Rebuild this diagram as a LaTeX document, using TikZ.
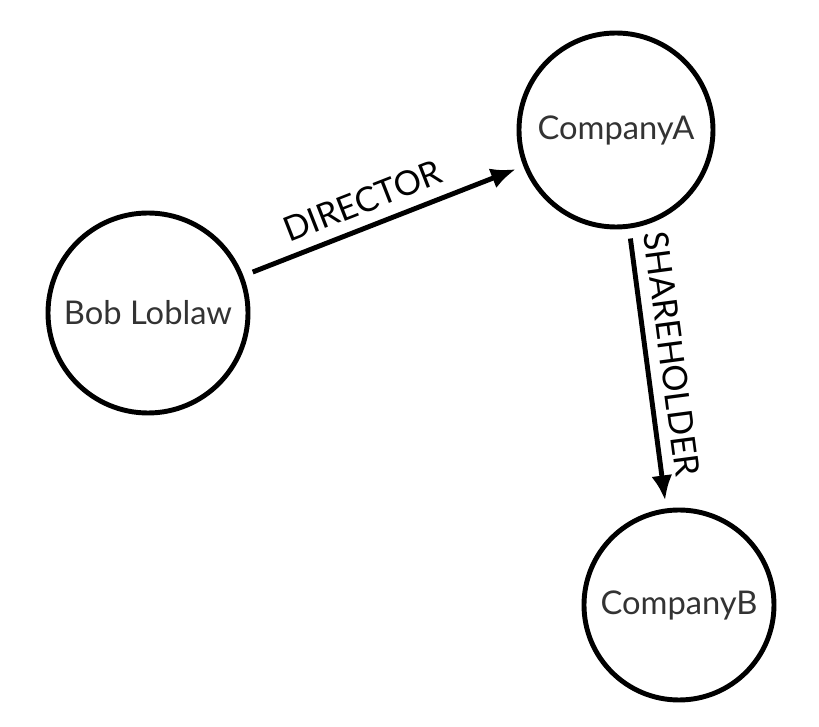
\documentclass[tikz,border=0pt]{standalone}
\usepackage{fontspec}
\setmainfont{Lato}
\usetikzlibrary{positioning,arrows.meta}
\definecolor{nodetext}{HTML}{333333}

\begin{document}
\begin{tikzpicture}[>={Latex[length=0.25cm,width=0.21cm]},
  entity/.style={draw,circle,line width=1.4pt,minimum size=1.94cm,inner sep=0pt,text=nodetext,font=\fontsize{9.3}{11}\selectfont},
  rel/.style={->,line width=1.4pt,shorten <=0.1cm,shorten >=0.08cm},
  rellabel/.style={sloped,above,pos=0.46,inner sep=0.11cm,font=\fontsize{9.7}{11}\selectfont}]
  \useasboundingbox (0,0) rectangle (8.19,7.27);
  \node[entity,minimum size=2.0cm] (bob) at (1.48,4.14) {Bob Loblaw};
  \node[entity] (compA) at (6.16,5.97) {CompanyA};
  \node[entity,minimum size=1.9cm] (compB) at (6.79,1.22) {CompanyB};
  \draw[rel] (bob) -- (compA) node[rellabel]{DIRECTOR};
  \draw[rel] (compA) -- (compB) node[rellabel]{SHAREHOLDER};
\end{tikzpicture}
\end{document}
